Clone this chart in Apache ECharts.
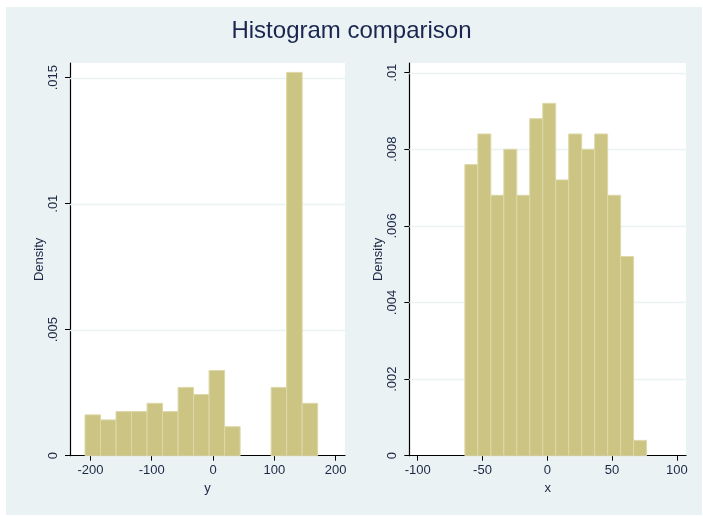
<!DOCTYPE html>
<html>
<head>
<meta charset="utf-8">
<script src="https://cdn.jsdelivr.net/npm/echarts@6/dist/echarts.min.js"></script>
<style>
html,body{margin:0;padding:0;background:#ffffff;}
#chart{width:703px;height:516px;}
</style>
</head>
<body>
<div id="chart"></div>
<script>
// ---- Data ----
const titleText = 'Histogram comparison';

// Left panel: variable y
const yBinStart = -208.8;
const yBinWidth = 25.3;
const yDensity = [0.00162, 0.00142, 0.00175, 0.00175, 0.00208, 0.00175, 0.00271, 0.00243, 0.00338, 0.00115, 0, 0, 0.00271, 0.01521, 0.00208];
const yXTicks = [-200, -100, 0, 100, 200];
const yYTicks = [0, 0.005, 0.01, 0.015];
const yYTickLabels = ['0', '.005', '.01', '.015'];

// Right panel: variable x
const xBinStart = -63.6;
const xBinWidth = 10.02;
const xDensity = [0.0076, 0.0084, 0.0068, 0.0080, 0.0068, 0.0088, 0.0092, 0.0072, 0.0084, 0.0080, 0.0084, 0.0068, 0.0052, 0.0004];
const xXTicks = [-100, -50, 0, 50, 100];
const xYTicks = [0, 0.002, 0.004, 0.006, 0.008, 0.01];
const xYTickLabels = ['0', '.002', '.004', '.006', '.008', '.01'];

// ---- Styling ----
const BG = '#EAF2F3';
const BAR = '#CCC482';
const BAR_EDGE = '#DDD8A8';
const TXT = '#1B2744';
const FONT = '"Liberation Sans", Arial, sans-serif';

function bins(start, width, dens) {
  return dens.map((d, i) => [start + i * width, start + (i + 1) * width, d]);
}

function renderBar(params, api) {
  const x0 = api.value(0), x1 = api.value(1), d = api.value(2);
  if (!d) return null;
  const p0 = api.coord([x0, d]);
  const p1 = api.coord([x1, 0]);
  return {
    type: 'rect',
    shape: { x: p0[0], y: p0[1], width: p1[0] - p0[0], height: p1[1] - p0[1] },
    style: { fill: BAR, stroke: BAR_EDGE, lineWidth: 1 }
  };
}

function labelMap(ticks, labels) {
  const m = {};
  ticks.forEach((t, i) => { m[t.toFixed(4)] = labels[i]; });
  return v => m[Number(v).toFixed(4)] !== undefined ? m[Number(v).toFixed(4)] : String(v);
}

function xAxisCfg(gridIndex, min, max, ticks, name) {
  return {
    type: 'value', gridIndex, min, max,
    name, nameLocation: 'middle', nameGap: 18,
    nameTextStyle: { color: TXT, fontSize: 13, fontFamily: FONT },
    axisLine: { show: true, onZero: false, lineStyle: { color: '#000', width: 1.2 } },
    axisTick: { show: true, length: 5, lineStyle: { color: '#000', width: 1 }, customValues: ticks },
    axisLabel: { color: TXT, fontSize: 13, fontFamily: FONT, margin: 8, customValues: ticks, formatter: v => String(v) },
    splitLine: { show: false }
  };
}

function yAxisCfg(gridIndex, max, ticks, labels) {
  const fmt = labelMap(ticks, labels);
  return {
    type: 'value', gridIndex, min: 0, max,
    name: 'Density', nameLocation: 'middle', nameGap: 24, nameRotate: 90,
    nameTextStyle: { color: TXT, fontSize: 13, fontFamily: FONT },
    axisLine: { show: true, onZero: false, lineStyle: { color: '#000', width: 1.2 } },
    axisTick: { show: true, length: 5, lineStyle: { color: '#000', width: 1 }, customValues: ticks },
    axisLabel: { color: TXT, fontSize: 13, fontFamily: FONT, margin: 10, rotate: 90, customValues: ticks, formatter: fmt },
    splitLine: { show: false }
  };
}

function gridLines(ticks, xmin, xmax) {
  return ticks.filter(t => t > 0).map(t => [xmin, xmax, t]);
}
function renderGridLine(params, api) {
  const a = api.coord([api.value(0), api.value(2)]);
  const b = api.coord([api.value(1), api.value(2)]);
  return { type: 'line', shape: { x1: a[0], y1: Math.round(a[1]) + 0.5, x2: b[0], y2: Math.round(b[1]) + 0.5 },
           style: { stroke: BG, lineWidth: 1.5 } };
}

const L = { xmin: -233.3, xmax: 215.3, ymax: 0.015583 };
const R = { xmin: -106.5, xmax: 107.1, ymax: 0.010253 };

const chart = echarts.init(document.getElementById('chart'), null, { renderer: 'canvas' });
chart.setOption({
  animation: false,
  backgroundColor: '#ffffff',
  graphic: [
    { type: 'rect', z: -10, shape: { x: 6, y: 7, width: 696, height: 508 }, style: { fill: BG } }
  ],
  title: {
    text: titleText, left: 'center', top: 14,
    textStyle: { color: '#1A2650', fontSize: 24, fontWeight: 'normal', fontFamily: FONT }
  },
  grid: [
    { left: 70, top: 63, width: 275, height: 392.7, show: true, backgroundColor: '#ffffff', borderWidth: 0 },
    { left: 409.3, top: 63, width: 276.7, height: 392.7, show: true, backgroundColor: '#ffffff', borderWidth: 0 }
  ],
  xAxis: [
    xAxisCfg(0, L.xmin, L.xmax, yXTicks, 'y'),
    xAxisCfg(1, R.xmin, R.xmax, xXTicks, 'x')
  ],
  yAxis: [
    yAxisCfg(0, L.ymax, yYTicks, yYTickLabels),
    yAxisCfg(1, R.ymax, xYTicks, xYTickLabels)
  ],
  series: [
    { type: 'custom', xAxisIndex: 0, yAxisIndex: 0, renderItem: renderGridLine, data: gridLines(yYTicks, L.xmin, L.xmax), silent: true, z: 1 },
    { type: 'custom', xAxisIndex: 1, yAxisIndex: 1, renderItem: renderGridLine, data: gridLines(xYTicks, R.xmin, R.xmax), silent: true, z: 1 },
    { type: 'custom', xAxisIndex: 0, yAxisIndex: 0, renderItem: renderBar, data: bins(yBinStart, yBinWidth, yDensity), z: 2,
      encode: { x: [0, 1], y: 2 } },
    { type: 'custom', xAxisIndex: 1, yAxisIndex: 1, renderItem: renderBar, data: bins(xBinStart, xBinWidth, xDensity), z: 2,
      encode: { x: [0, 1], y: 2 } }
  ]
});
</script>
</body>
</html>
